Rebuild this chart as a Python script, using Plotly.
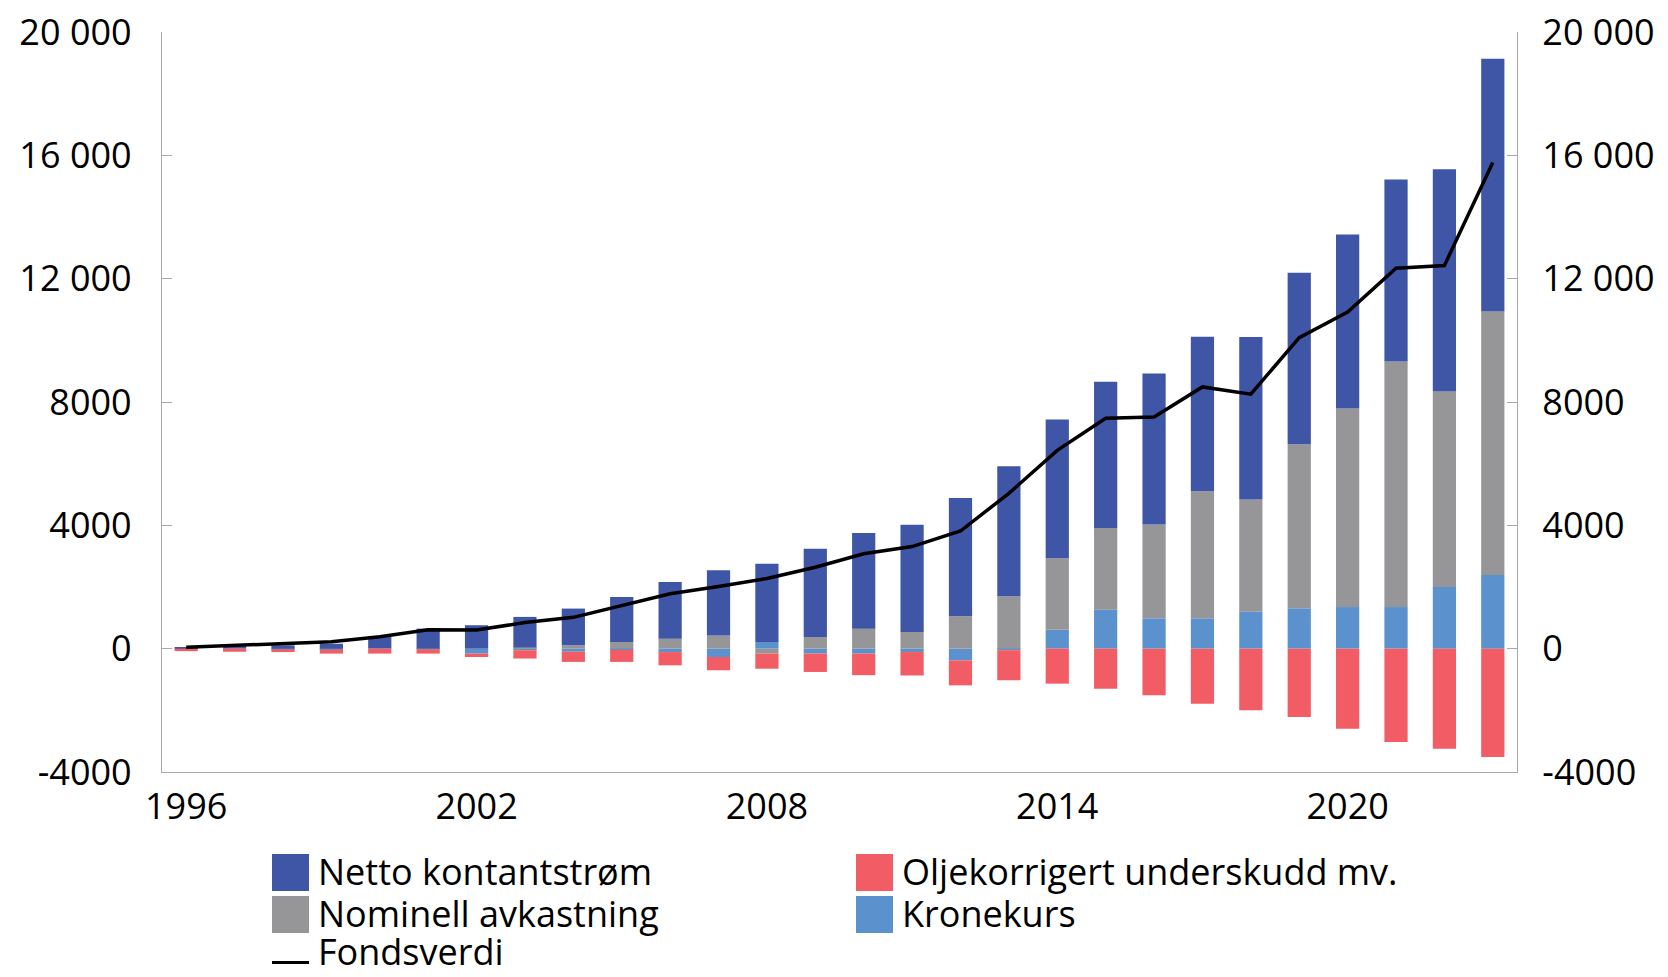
""" Fund value decomposition chart (stacked bars + line) """

import plotly.graph_objects as go

# data (NOK bn, cumulative)

years = list(range(1996, 2024))

netto_kontantstrom = [40, 80, 110, 160, 400, 650, 760, 990, 1190, 1460, 1840, 2110, 2540, 2865,
                      3100, 3480, 3840, 4220, 4500, 4740, 4900, 5010, 5270, 5560, 5640, 5910, 7210, 8200]
nominell_avkastning = [0, 0, 0, 0, 0, -30, 0, 40, 110, 216, 324, 430, -160, 378,
                       650, 540, 1050, 1700, 2320, 2650, 3040, 4120, 3640, 5320, 6440, 7960, 6340, 8545]
kronekurs = [0, 0, -20, -30, 0, 0, -160, -50, -100, -40, -110, -270, 216, -160,
             -160, -110, -380, -50, 610, 1265, 985, 985, 1200, 1310, 1350, 1350, 2000, 2390]
oljekorrigert = [-80, -100, -90, -130, -160, -130, -110, -270, -330, -390, -430, -430, -490, -595,
                 -700, -760, -810, -975, -1135, -1300, -1510, -1785, -2000, -2215, -2595, -3030, -3245, -3515]
fondsverdi = [48, 113, 172, 222, 386, 614, 609, 845, 1016, 1399, 1783, 2019, 2275, 2640,
              3077, 3312, 3816, 5038, 6431, 7475, 7510, 8488, 8256, 10088, 10914, 12340, 12429, 15765]

x_ticks = [1996, 2002, 2008, 2014, 2020]
y_ticks = [-4000, 0, 4000, 8000, 12000, 16000, 20000]
y_ticktext = ["-4000", "0", "4000", "8000", "12 000", "16 000", "20 000"]

# styles

BLUE = "#3f56a6"
GREY = "#969598"
RED = "#f25d65"
LIGHTBLUE = "#5b91cc"
AXIS = "#a9a9a9"
FONT = "Open Sans"

# the page body adds an 8px offset, so the figure is 8px smaller than the window
OFF = 8
W, H = 1660, 969
L, R, T, B = 154, 151, 24, 205


def to_paper(px, py):
    """ page pixel position -> paper coordinates (for the hand-made legend) """
    return (px - OFF - L) / (W - L - R), (H - B - (py - OFF)) / (H - T - B)


fig = go.Figure()

# order matters for the relative stacking: kronekurs nearest zero
for name, vals, col in [("Kronekurs", kronekurs, LIGHTBLUE),
                        ("Nominell avkastning", nominell_avkastning, GREY),
                        ("Netto kontantstrøm", netto_kontantstrom, BLUE),
                        ("Oljekorrigert underskudd mv.", oljekorrigert, RED)]:
    fig.add_trace(go.Bar(x=years, y=vals, name=name, marker_color=col,
                         marker_line_width=0, showlegend=False))

fig.add_trace(go.Scatter(x=years, y=fondsverdi, name="Fondsverdi", mode="lines",
                         line=dict(color="black", width=3.5), yaxis="y2", showlegend=False))

axis_common = dict(
    range=[-4000, 20000], tickvals=y_ticks, ticktext=y_ticktext,
    showgrid=False, zeroline=False, showline=True, linecolor=AXIS, linewidth=1.3,
    ticks="inside", ticklen=10, tickcolor=AXIS, tickwidth=1.3,
    tickfont=dict(family=FONT, size=36, color="black"),
    automargin=False, ticklabeloverflow="allow",
)

fig.update_layout(
    width=W, height=H,
    margin=dict(l=L, r=R, t=T, b=B),
    barmode="relative",
    bargap=0.52,
    plot_bgcolor="white",
    paper_bgcolor="white",
    font=dict(family=FONT, size=36, color="black"),
    xaxis=dict(range=[1995.5, 2023.5], tickvals=x_ticks, showgrid=False, zeroline=False,
               showline=True, linecolor=AXIS, linewidth=1.3, ticks="", automargin=False,
               tickfont=dict(family=FONT, size=36, color="black"), ticklabelstandoff=3,
               ticklabeloverflow="allow"),
    yaxis=dict(side="left", ticklabelstandoff=22, **axis_common),
    yaxis2=dict(side="right", overlaying="y", ticklabelstandoff=17, **axis_common),
)

# legend drawn by hand so the swatches match the big squares of the original
legend_items = [("Netto kontantstrøm", BLUE, 272, 854),
                ("Nominell avkastning", GREY, 272, 896),
                ("Oljekorrigert underskudd mv.", RED, 856, 854),
                ("Kronekurs", LIGHTBLUE, 856, 896)]
for label, col, px, py in legend_items:
    x0, y0 = to_paper(px, py)
    x1, y1 = to_paper(px + 37, py + 37)
    fig.add_shape(type="rect", xref="paper", yref="paper", x0=x0, x1=x1, y0=y0, y1=y1,
                  fillcolor=col, line_width=0)
    tx, ty = to_paper(px + 44, py + 17.5)
    fig.add_annotation(text=label, xref="paper", yref="paper", x=tx, y=ty,
                       xanchor="left", yanchor="middle", showarrow=False,
                       font=dict(family=FONT, size=36, color="black"))

lx0, ly = to_paper(272, 962.5)
lx1, _ = to_paper(309, 962.5)
fig.add_shape(type="line", xref="paper", yref="paper", x0=lx0, x1=lx1, y0=ly, y1=ly,
              line=dict(color="black", width=3))
tx, ty = to_paper(316, 951)
fig.add_annotation(text="Fondsverdi", xref="paper", yref="paper", x=tx, y=ty,
                   xanchor="left", yanchor="middle", showarrow=False,
                   font=dict(family=FONT, size=36, color="black"))

fig.write_html("out.html")
